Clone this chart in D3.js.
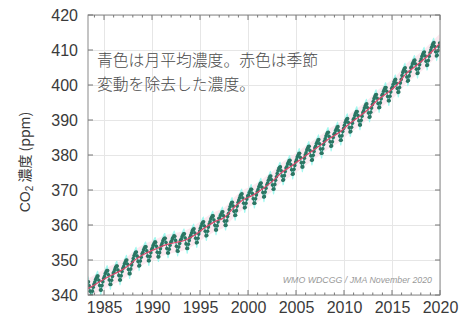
<!DOCTYPE html>
<html>
<head>
<meta charset="utf-8">
<script src="https://cdn.jsdelivr.net/npm/d3@7"></script>
<style>
  body { margin: 0; background: #fff; }
  text { font-family: "Liberation Sans", Arial, sans-serif; }
</style>
</head>
<body>
<div id="main"></div>
<script>
// monthly global mean CO2 (ppm), one row per year starting 1983
const startYear = 1983;
const monthly = [
  [342.1,342.8,343.3,343.8,343.8,342.6,341.1,339.8,339.8,341.1,342.2,343.1], // 1983
  [343.7,344.4,344.9,345.4,345.4,344.2,342.7,341.4,341.4,342.7,343.8,344.7],
  [345.3,346.1,346.6,347.0,347.0,345.8,344.3,343.0,343.0,344.2,345.3,346.3], // 1985
  [346.6,347.3,347.9,348.3,348.3,347.1,345.6,344.3,344.3,345.5,346.7,347.6],
  [348.1,348.9,349.4,349.9,350.0,348.8,347.3,346.1,346.1,347.4,348.6,349.5],
  [350.4,351.2,351.7,352.2,352.3,351.1,349.6,348.3,348.4,349.7,350.8,351.8],
  [352.2,352.9,353.4,353.8,353.8,352.6,351.1,349.8,349.8,351.0,352.1,353.0],
  [353.5,354.2,354.7,355.1,355.1,353.9,352.2,350.9,350.9,352.1,353.2,354.1], // 1990
  [354.7,355.4,355.9,356.2,356.2,355.0,353.3,352.0,352.0,353.1,354.2,355.1],
  [355.4,356.1,356.5,356.9,356.8,355.6,353.9,352.6,352.5,353.7,354.7,355.6],
  [355.9,356.6,357.1,357.5,357.5,356.3,354.6,353.3,353.3,354.5,355.6,356.5],
  [357.1,357.8,358.4,358.8,358.9,357.7,356.2,354.9,355.0,356.2,357.4,358.3],
  [359.1,359.8,360.4,360.8,360.9,359.7,358.2,356.9,357.0,358.2,359.4,360.3], // 1995
  [360.9,361.7,362.2,362.6,362.6,361.4,359.9,358.6,358.6,359.8,360.9,361.9],
  [361.9,362.7,363.2,363.7,363.8,362.6,361.1,359.9,359.9,361.2,362.4,363.3],
  [364.4,365.2,365.9,366.4,366.5,365.4,363.9,362.7,362.8,364.1,365.4,366.4],
  [367.1,367.8,368.4,368.8,368.9,367.7,366.2,364.9,365.0,366.2,367.4,368.3],
  [368.5,369.2,369.7,370.2,370.2,369.0,367.5,366.2,366.2,367.5,368.6,369.5], // 2000
  [370.1,370.9,371.4,371.9,372.0,370.8,369.3,368.0,368.1,369.4,370.5,371.5],
  [372.0,372.8,373.4,373.9,374.0,372.9,371.4,370.2,370.3,371.6,372.8,373.8],
  [374.7,375.5,376.1,376.5,376.6,375.5,374.0,372.8,372.9,374.1,375.3,376.3],
  [376.6,377.4,377.9,378.4,378.5,377.3,375.8,374.5,374.6,375.9,377.0,378.0],
  [378.6,379.4,379.9,380.4,380.5,379.3,377.8,376.6,376.6,377.9,379.1,380.0], // 2005
  [380.6,381.4,381.9,382.4,382.5,381.3,379.8,378.5,378.6,379.9,381.0,382.0],
  [382.5,383.3,383.8,384.3,384.4,383.2,381.7,380.5,380.5,381.8,383.0,383.9],
  [384.6,385.4,386.0,386.4,386.5,385.3,383.8,382.5,382.6,383.8,385.0,385.9],
  [386.2,387.0,387.5,388.0,388.1,386.9,385.4,384.2,384.2,385.5,386.7,387.6],
  [388.5,389.3,389.9,390.3,390.4,389.3,387.8,386.6,386.7,387.9,389.1,390.1], // 2010
  [390.5,391.3,391.9,392.4,392.4,391.3,389.8,388.6,388.6,389.9,391.1,392.1],
  [392.6,393.4,394.0,394.5,394.6,393.5,392.0,390.8,390.9,392.2,393.4,394.4],
  [395.3,396.1,396.7,397.2,397.3,396.2,394.7,393.5,393.6,394.9,396.1,397.1],
  [397.4,398.2,398.8,399.3,399.3,398.2,396.7,395.5,395.5,396.8,398.0,399.0],
  [399.4,400.2,400.9,401.4,401.6,400.5,399.0,397.9,398.0,399.3,400.6,401.6], // 2015
  [402.7,403.6,404.2,404.7,404.9,403.8,402.3,401.1,401.3,402.6,403.8,404.9],
  [405.2,406.0,406.5,407.0,407.1,406.0,404.5,403.3,403.4,404.7,405.8,406.8],
  [407.4,408.2,408.8,409.3,409.4,408.3,406.8,405.6,405.7,407.0,408.2,409.2],
  [410.0,410.8,411.4,411.9,412.1,411.0,409.5,408.3,408.5,409.8,411.0,412.0]  // 2019
];

// deseasonalized trend (ppm)
const trendTime  = [1983.3,1983.5,1984.5,1985.5,1986.5,1987.5,1988.5,1989.5,1990.5,1991.5,1992.5,1993.5,
  1994.5,1995.5,1996.5,1997.5,1998.5,1999.5,2000.5,2001.5,2002.5,2003.5,2004.5,2005.5,2006.5,
  2007.5,2008.5,2009.5,2010.5,2011.5,2012.5,2013.5,2014.5,2015.5,2016.5,2017.5,2018.5,2019.5,2019.95];
const trendValue = [341.8,342.1,343.7,345.3,346.6,348.3,350.6,352.1,353.3,354.4,355.0,355.7,
  357.2,359.2,360.9,362.1,364.9,367.2,368.5,370.3,372.4,375.0,376.8,378.8,380.8,
  382.7,384.8,386.4,388.8,390.8,393.0,395.7,397.7,400.0,403.3,405.5,407.8,410.5,411.8];

const monthlyBand = 1.5;   // half width of cyan band, ppm
const trendBand = 2.8;     // half width of pink band, ppm

const xTicks = [1985, 1990, 1995, 2000, 2005, 2010, 2015, 2020];
const yTicks = [340, 350, 360, 370, 380, 390, 400, 410, 420];
const noteLines = ["青色は月平均濃度。赤色は季節", "変動を除去した濃度。"];
const creditText = "WMO WDCGG / JMA  November 2020";

const width = 472, height = 322;
const margin = { top: 15, right: 32, bottom: 27, left: 88 };
const iw = width - margin.left - margin.right;
const ih = height - margin.top - margin.bottom;

const svg = d3.select("#main").append("svg")
  .attr("width", width)
  .attr("height", height);

const x = d3.scaleLinear().domain([1983.33, 2020]).range([margin.left, width - margin.right]);
const y = d3.scaleLinear().domain([340, 420]).range([height - margin.bottom, margin.top]);

svg.append("clipPath").attr("id", "plot")
  .append("rect")
  .attr("x", margin.left).attr("y", margin.top)
  .attr("width", iw).attr("height", ih);

// grid
svg.append("g")
  .attr("transform", `translate(0,${height - margin.bottom})`)
  .call(d3.axisBottom(x).tickValues(xTicks).tickSize(-ih).tickFormat(""))
  .call(g => g.select(".domain").remove())
  .call(g => g.selectAll("line").attr("stroke", "#e6e6e6"));
svg.append("g")
  .attr("transform", `translate(${margin.left},0)`)
  .call(d3.axisLeft(y).tickValues(yTicks).tickSize(-iw).tickFormat(""))
  .call(g => g.select(".domain").remove())
  .call(g => g.selectAll("line").attr("stroke", "#e6e6e6"));

const points = monthly.flatMap((row, i) =>
  row.map((v, m) => ({ t: startYear + i + (m + 0.5) / 12, v })));
const trend = trendTime.map((t, i) => ({ t, v: trendValue[i] }));

const plot = svg.append("g").attr("clip-path", "url(#plot)");

// bands
plot.append("path")
  .datum(trend)
  .attr("fill", "#fce4ec")
  .attr("opacity", 0.8)
  .attr("d", d3.area().curve(d3.curveMonotoneX)
    .x(d => x(d.t)).y0(d => y(d.v - trendBand)).y1(d => y(d.v + trendBand)));

plot.append("path")
  .datum(points)
  .attr("fill", "#93f7ec")
  .attr("opacity", 0.85)
  .attr("d", d3.area().curve(d3.curveMonotoneX)
    .x(d => x(d.t)).y0(d => y(d.v - monthlyBand)).y1(d => y(d.v + monthlyBand)));

// monthly means
plot.append("path")
  .datum(points)
  .attr("fill", "none")
  .attr("stroke", "#3b8f7c")
  .attr("stroke-width", 1)
  .attr("d", d3.line().x(d => x(d.t)).y(d => y(d.v)));

plot.append("g")
  .selectAll("circle")
  .data(points)
  .join("circle")
    .attr("cx", d => x(d.t))
    .attr("cy", d => y(d.v))
    .attr("r", 1.8)
    .attr("fill", "#2c7563");

// deseasonalized
plot.append("path")
  .datum(trend)
  .attr("fill", "none")
  .attr("stroke", "#d9476a")
  .attr("stroke-width", 1.2)
  .attr("d", d3.line().curve(d3.curveMonotoneX).x(d => x(d.t)).y(d => y(d.v)));

// frame + inward ticks
svg.append("rect")
  .attr("x", margin.left).attr("y", margin.top)
  .attr("width", iw).attr("height", ih)
  .attr("fill", "none").attr("stroke", "#8a8a8a");

const minorYears = d3.range(1984, 2021);
const tickG = svg.append("g").attr("stroke", "#777");
minorYears.forEach(yr => {
  const len = yr % 5 === 0 ? 5 : 2.5;
  tickG.append("line").attr("x1", x(yr)).attr("x2", x(yr))
    .attr("y1", height - margin.bottom).attr("y2", height - margin.bottom - len);
  tickG.append("line").attr("x1", x(yr)).attr("x2", x(yr))
    .attr("y1", margin.top).attr("y2", margin.top + len);
});
yTicks.forEach(v => {
  tickG.append("line").attr("x1", margin.left).attr("x2", margin.left + 5)
    .attr("y1", y(v)).attr("y2", y(v));
  tickG.append("line").attr("x1", width - margin.right).attr("x2", width - margin.right - 5)
    .attr("y1", y(v)).attr("y2", y(v));
});

// tick labels
svg.append("g")
  .attr("transform", `translate(0,${height - margin.bottom})`)
  .call(d3.axisBottom(x).tickValues(xTicks).tickSize(0).tickPadding(7).tickFormat(d3.format("d")))
  .call(g => g.select(".domain").remove())
  .call(g => g.selectAll("text").attr("font-size", "16px").attr("fill", "#3a3a3a")
    .style("font-family", '"Liberation Sans", Arial, sans-serif'));

svg.append("g")
  .attr("transform", `translate(${margin.left},0)`)
  .call(d3.axisLeft(y).tickValues(yTicks).tickSize(0).tickPadding(10))
  .call(g => g.select(".domain").remove())
  .call(g => g.selectAll("text").attr("font-size", "16px").attr("fill", "#3a3a3a")
    .style("font-family", '"Liberation Sans", Arial, sans-serif'));

// y title
const yt = svg.append("text")
  .attr("transform", `translate(30,162) rotate(-90)`)
  .attr("text-anchor", "middle")
  .attr("font-size", "14px")
  .attr("fill", "#3a3a3a");
yt.append("tspan").text("CO");
yt.append("tspan").text("2").attr("font-size", "10px").attr("dy", "3");
yt.append("tspan").text(" 濃度 (ppm)").attr("dy", "-3")
  .style("font-family", '"Noto Sans CJK JP", "Liberation Sans", sans-serif');

// note
svg.append("g")
  .selectAll("text")
  .data(noteLines)
  .join("text")
    .attr("x", 97)
    .attr("y", (d, i) => 66 + i * 24)
    .attr("font-size", "15.8px")
    .attr("fill", "#4a4a4a")
    .style("font-family", '"Noto Sans CJK JP", sans-serif')
    .style("font-weight", 300)
    .text(d => d);

// credit
svg.append("text")
  .attr("x", width - margin.right - 8)
  .attr("y", height - margin.bottom - 12)
  .attr("text-anchor", "end")
  .attr("font-size", "8.8px")
  .attr("font-style", "italic")
  .attr("fill", "#999")
  .text(creditText);
</script>
</body>
</html>
